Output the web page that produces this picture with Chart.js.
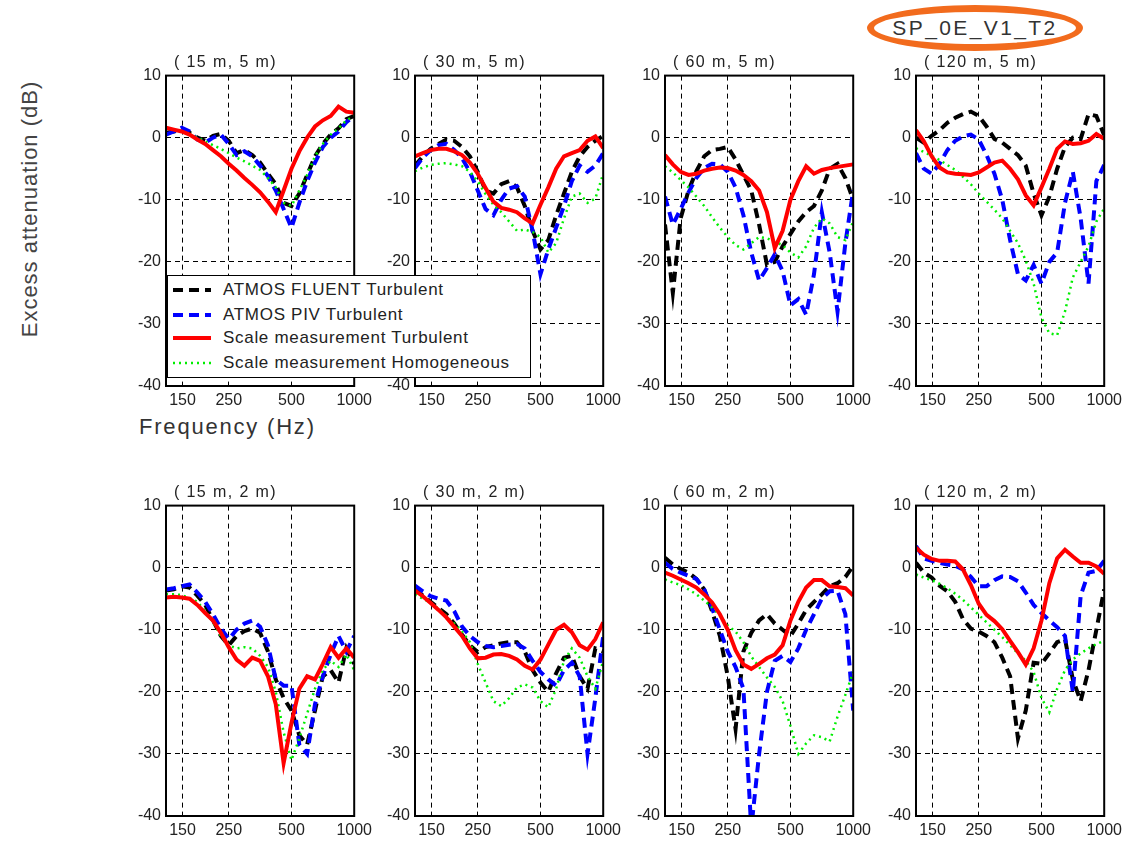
<!DOCTYPE html>
<html>
<head>
<meta charset="utf-8">
<script src="https://cdn.jsdelivr.net/npm/chart.js@4.4.0/dist/chart.umd.min.js"></script>
<style>
  body { margin: 0; background: #fff; width: 1128px; height: 845px; position: relative; overflow: hidden;
         font-family: "Liberation Sans", Arial, sans-serif; }
  canvas { position: absolute; }
  .ptitle { position: absolute; font-size: 16px; letter-spacing: 1.4px; color: #222; white-space: pre; line-height: 16px; }
  #ylabel { position: absolute; left: 30px; top: 209px; transform: translate(-50%, -50%) rotate(-90deg);
            font-size: 22px; letter-spacing: 1px; color: #444; white-space: nowrap; }
  #xlabel { position: absolute; left: 139px; top: 414px; font-size: 22px; letter-spacing: 1.8px; color: #333; white-space: nowrap; }
  #tag { position: absolute; left: 867px; top: 5px; width: 202px; height: 32px; border: 7px solid #f26b1d;
         border-radius: 50%; text-align: center; line-height: 32px; font-size: 21px; letter-spacing: 2.4px; color: #333; }
  #legend { position: absolute; left: 167px; top: 275px; width: 362px; height: 101px; background: #fff;
            border: 1.5px solid #000; }
  .lrow { position: absolute; left: 0; height: 20px; font-size: 17px; letter-spacing: 0.7px; color: #222; white-space: nowrap; }
  .lrow svg { position: absolute; left: 5px; top: 4px; }
  .lrow span { position: absolute; left: 55px; top: 0; line-height: 20px; }
</style>
</head>
<body>
<div id="ylabel">Excess attenuation (dB)</div>
<div id="xlabel">Frequency (Hz)</div>
<div id="tag">SP_0E_V1_T2</div>

<script>
// frequency axis (Hz), 1/8 octave steps read across each panel
const freqs = [125, 136.3, 148.6, 162.1, 176.8, 192.8, 210.2, 229.2, 250, 272.6, 297.3, 324.2, 353.6,
               385.6, 420.4, 458.5, 500, 545.3, 594.6, 648.4, 707.1, 771.1, 840.9, 917.0, 1000];
const xTicks = [150, 250, 500, 1000];
const yTicks = [-40, -30, -20, -10, 0, 10];

const seriesNames = ['ATMOS FLUENT Turbulent', 'ATMOS PIV Turbulent', 'Scale measurement Turbulent', 'Scale measurement Homogeneous'];
const panelTitles = ['( 15 m, 5 m)', '( 30 m, 5 m)', '( 60 m, 5 m)', '( 120 m, 5 m)',
                     '( 15 m, 2 m)', '( 30 m, 2 m)', '( 60 m, 2 m)', '( 120 m, 2 m)'];

// excess attenuation (dB) per panel and series
const fluent15x5 = [0.8, 1.0, 1.3, 0.8, 0.0, -0.5, 0.3, 0.6, -0.5, -2.5, -2.0, -2.8, -4.0, -5.8, -7.5, -10.5, -11.0, -9.0, -6.0, -3.0, -1.0, 0.5, 1.5, 3.0, 3.5];
const piv15x5    = [0.5, 1.0, 1.6, 1.0, -0.3, -0.8, 0.0, 0.5, -1.0, -2.8, -2.2, -3.0, -4.5, -6.2, -8.5, -11.5, -14.5, -10.5, -7.0, -4.0, -1.5, 0.0, 1.0, 2.5, 3.5];
const turb15x5   = [1.6, 1.3, 1.0, 0.5, -0.3, -1.0, -2.0, -3.0, -4.2, -5.3, -6.5, -7.6, -8.8, -10.3, -12.0, -8.5, -5.0, -2.2, 0.0, 1.8, 2.8, 3.5, 5.0, 4.2, 4.0];
const homog15x5  = [1.5, 1.3, 1.0, 0.6, 0.0, -0.6, -1.2, -1.8, -2.5, -3.2, -3.8, -4.5, -5.2, -6.5, -8.0, -10.5, -11.0, -8.5, -6.0, -3.0, -1.0, 0.5, 1.5, 2.8, 3.5];

const fluent30x5 = [-4.5, -3.0, -1.8, -1.0, -0.3, -0.5, -1.5, -3.0, -5.5, -8.5, -9.0, -7.5, -7.0, -8.0, -11.0, -15.0, -18.0, -16.5, -12.5, -9.0, -5.5, -3.0, -1.5, -0.5, 0.3];
const piv30x5    = [-4.9, -3.2, -2.0, -1.2, -1.0, -2.0, -3.3, -5.5, -8.5, -11.5, -12.5, -10.0, -8.2, -7.8, -9.5, -15.0, -22.0, -18.0, -14.5, -11.0, -7.0, -4.5, -5.5, -4.5, -2.5];
const turb30x5   = [-3.0, -2.5, -2.0, -1.8, -1.8, -2.2, -2.8, -4.0, -5.8, -8.1, -10.3, -11.3, -11.6, -12.0, -13.0, -13.8, -10.8, -8.0, -5.0, -3.0, -2.5, -2.0, -0.5, 0.2, -1.7];
const homog30x5  = [-5.4, -4.8, -4.4, -4.2, -4.1, -4.3, -4.6, -5.5, -7.0, -9.1, -10.8, -12.0, -13.5, -15.0, -14.8, -15.2, -16.0, -18.5, -17.0, -13.0, -9.5, -9.0, -10.5, -9.8, -5.8];

const fluent60x5 = [-14.0, -25.0, -13.0, -8.5, -5.4, -3.0, -2.0, -1.8, -1.5, -3.5, -6.0, -8.5, -14.0, -20.5, -20.0, -17.5, -15.5, -13.5, -12.0, -11.0, -8.5, -5.0, -4.2, -6.5, -10.0];
const piv60x5    = [-9.5, -14.0, -11.5, -8.8, -6.5, -4.9, -4.2, -4.3, -5.5, -8.0, -12.5, -18.5, -23.0, -21.0, -18.8, -21.5, -27.0, -26.0, -28.5, -22.0, -12.0, -18.5, -28.0, -17.0, -8.5];
const turb60x5   = [-2.8, -4.3, -5.5, -6.0, -5.8, -5.3, -5.0, -4.8, -4.9, -5.3, -6.0, -7.0, -8.5, -12.0, -17.8, -15.0, -10.0, -7.0, -4.6, -5.8, -5.2, -4.9, -4.7, -4.5, -4.3];
const homog60x5  = [-4.6, -5.6, -6.8, -8.0, -9.5, -11.0, -12.8, -14.5, -16.0, -17.3, -18.0, -17.0, -16.0, -16.2, -16.8, -17.3, -18.5, -19.3, -17.5, -14.5, -13.0, -13.8, -16.0, -16.5, -13.5];

const fluent120x5 = [0.0, -0.8, 0.3, 1.2, 2.4, 3.2, 3.8, 4.2, 3.5, 1.8, -0.2, -0.8, -1.8, -2.8, -4.5, -9.0, -12.5, -9.5, -5.0, -1.5, 0.0, -0.2, 3.8, 3.5, 0.4];
const piv120x5    = [-2.5, -5.0, -5.8, -4.2, -2.0, -0.5, 0.2, 0.5, -0.3, -2.8, -5.8, -10.0, -16.5, -22.0, -23.0, -20.5, -23.5, -20.0, -18.5, -10.5, -5.5, -13.0, -23.5, -7.0, -4.4];
const turb120x5   = [1.2, -0.6, -3.0, -4.8, -5.6, -5.8, -5.9, -6.0, -5.6, -4.8, -4.0, -3.7, -5.0, -6.7, -9.3, -10.9, -8.0, -5.0, -1.8, -0.6, -1.0, -0.9, -0.5, 0.6, -0.2];
const homog120x5  = [-1.7, -2.3, -2.9, -3.6, -4.4, -5.2, -6.3, -7.5, -9.0, -10.3, -11.6, -13.0, -15.0, -17.0, -19.8, -23.5, -29.0, -31.5, -31.8, -28.0, -22.5, -20.0, -17.5, -13.5, -11.4];

const fluent15x2 = [-3.7, -3.5, -3.0, -3.2, -4.5, -6.0, -8.5, -11.0, -12.5, -11.0, -10.2, -9.8, -10.5, -13.5, -18.0, -21.0, -23.0, -27.0, -28.5, -23.0, -17.5, -16.5, -18.5, -13.0, -15.5];
const piv15x2    = [-3.5, -3.3, -3.0, -2.7, -4.0, -5.5, -7.5, -9.8, -11.5, -10.0, -9.0, -8.5, -9.5, -12.5, -18.0, -19.0, -19.0, -28.5, -30.0, -22.0, -17.5, -14.0, -11.0, -13.5, -11.0];
const turb15x2   = [-4.8, -4.7, -4.8, -5.0, -6.0, -7.3, -8.5, -10.5, -12.8, -14.8, -15.8, -14.5, -15.0, -17.5, -22.0, -31.5, -25.0, -19.5, -17.5, -18.0, -15.5, -12.8, -14.5, -13.0, -14.5];
const homog15x2  = [-4.3, -4.3, -4.4, -4.9, -5.5, -7.0, -8.8, -11.0, -12.5, -13.0, -12.8, -13.0, -14.2, -16.0, -20.0, -26.5, -31.0, -27.5, -23.5, -19.5, -16.5, -15.0, -16.0, -14.0, -16.5];

const fluent30x2 = [-3.5, -4.5, -5.5, -6.5, -7.5, -9.0, -10.8, -12.5, -13.6, -12.8, -12.5, -12.2, -12.0, -12.0, -13.5, -16.5, -18.5, -20.0, -17.0, -14.5, -14.2, -17.5, -19.5, -13.0, -13.5];
const piv30x2    = [-2.9, -3.8, -4.6, -5.0, -5.3, -7.0, -9.5, -11.0, -12.0, -12.6, -12.8, -12.6, -12.4, -12.3, -13.0, -15.0, -16.8, -18.0, -19.0, -16.5, -15.3, -17.5, -30.0, -21.0, -11.0];
const turb30x2   = [-3.7, -4.6, -5.7, -6.8, -8.0, -9.5, -11.0, -13.0, -14.6, -14.5, -14.0, -13.9, -14.2, -14.8, -15.8, -16.4, -14.8, -12.4, -10.0, -9.2, -10.4, -12.5, -13.2, -11.5, -8.8];
const homog30x2  = [-4.3, -5.0, -5.6, -6.6, -7.8, -9.0, -10.3, -12.0, -15.5, -18.5, -21.5, -22.3, -21.0, -19.3, -18.8, -19.3, -21.5, -22.5, -19.5, -15.0, -13.0, -14.5, -17.5, -19.5, -15.0];

const fluent60x2 = [1.6, 0.5, -0.2, -0.8, -1.8, -3.5, -7.0, -11.0, -17.5, -26.0, -13.5, -10.5, -8.5, -7.5, -9.0, -10.0, -11.0, -9.0, -6.8, -5.5, -4.3, -3.0, -2.5, -1.5, 0.3];
const piv60x2    = [0.8, -0.2, -0.8, -1.3, -1.8, -3.5, -6.5, -10.0, -13.5, -16.0, -19.5, -42.0, -30.0, -20.0, -15.0, -14.2, -15.2, -13.0, -10.0, -7.5, -5.0, -3.8, -3.7, -7.5, -23.0];
const turb60x2   = [-0.8, -1.3, -1.9, -2.5, -3.2, -4.3, -5.6, -7.5, -10.0, -13.3, -15.6, -16.3, -15.5, -14.6, -14.0, -12.5, -8.5, -5.5, -3.2, -2.0, -2.0, -3.0, -3.1, -3.3, -4.5];
const homog60x2  = [-1.9, -2.4, -2.8, -3.5, -4.3, -5.3, -6.4, -7.7, -9.3, -10.3, -12.0, -14.3, -16.0, -17.7, -19.2, -21.5, -25.5, -30.0, -28.3, -27.0, -27.3, -28.0, -24.0, -20.5, -16.8];

const fluent120x2 = [0.8, -0.8, -1.6, -2.9, -3.8, -5.5, -8.3, -9.8, -10.3, -11.0, -12.0, -14.5, -17.5, -27.5, -23.0, -15.3, -15.5, -13.8, -12.0, -11.5, -18.0, -21.5, -16.5, -10.0, -3.5];
const piv120x2    = [3.5, 1.5, 1.1, 0.8, 0.5, 0.3, -0.3, -1.5, -3.0, -3.0, -2.0, -1.4, -1.5, -2.2, -4.0, -6.0, -7.3, -8.5, -9.6, -11.0, -20.0, -4.5, -0.8, -0.5, 1.1];
const turb120x2   = [3.2, 2.1, 1.4, 1.1, 1.1, 1.0, -0.3, -2.8, -5.8, -7.6, -8.6, -9.9, -11.8, -13.6, -15.6, -13.0, -8.5, -2.5, 1.5, 2.9, 1.8, 0.8, 0.8, 0.2, -1.0];
const homog120x2  = [-1.1, -1.6, -2.0, -2.6, -3.3, -4.2, -5.2, -6.4, -7.6, -8.8, -10.0, -11.2, -12.5, -13.8, -15.0, -16.8, -21.0, -23.3, -19.5, -16.5, -14.8, -13.8, -13.0, -12.3, -11.8];

const panelSeries = [
  [fluent15x5, piv15x5, turb15x5, homog15x5],
  [fluent30x5, piv30x5, turb30x5, homog30x5],
  [fluent60x5, piv60x5, turb60x5, homog60x5],
  [fluent120x5, piv120x5, turb120x5, homog120x5],
  [fluent15x2, piv15x2, turb15x2, homog15x2],
  [fluent30x2, piv30x2, turb30x2, homog30x2],
  [fluent60x2, piv60x2, turb60x2, homog60x2],
  [fluent120x2, piv120x2, turb120x2, homog120x2]
];

// layout
const colLeft = [166, 415, 665, 916];
const rowTop = [73, 503];
const PLOT_W = 191, PLOT_H = 313;
const PAD_L = 40, PAD_T = 12, PAD_R = 20, PAD_B = 28;
const FONT = '"Liberation Sans", Arial, sans-serif';

const lineStyles = [
  { borderColor: '#000000', borderWidth: 4, borderDash: [10, 6], order: 3 },
  { borderColor: '#0000ff', borderWidth: 4, borderDash: [10, 6], order: 2 },
  { borderColor: '#ff0000', borderWidth: 4, borderDash: [], order: 0 },
  { borderColor: '#00ee00', borderWidth: 2.5, borderDash: [2, 4], order: 1 }
];

const framePlugin = {
  id: 'frame',
  afterDatasetsDraw(chart) {
    const { ctx, chartArea: a } = chart;
    ctx.save();
    ctx.setLineDash([]);
    ctx.strokeStyle = '#000';
    ctx.lineWidth = 2;
    ctx.strokeRect(a.left, a.top, a.right - a.left, a.bottom - a.top);
    ctx.restore();
  }
};

function makePanel(i) {
  const L = colLeft[i % 4], T = rowTop[Math.floor(i / 4)];

  const canvas = document.createElement('canvas');
  canvas.width = PAD_L + PLOT_W + PAD_R;
  canvas.height = PAD_T + PLOT_H + PAD_B;
  canvas.style.left = (L - PAD_L) + 'px';
  canvas.style.top = (T - PAD_T) + 'px';
  document.body.appendChild(canvas);

  const title = document.createElement('div');
  title.className = 'ptitle';
  title.textContent = panelTitles[i];
  title.style.left = (L + 8) + 'px';
  title.style.top = (T - 19) + 'px';
  document.body.appendChild(title);

  const datasets = panelSeries[i].map((vals, s) => Object.assign({
    label: seriesNames[s],
    data: freqs.map((f, k) => ({ x: f, y: vals[k] })),
    pointRadius: 0,
    tension: 0,
    fill: false,
    clip: 0
  }, lineStyles[s]));

  new Chart(canvas, {
    type: 'line',
    data: { datasets },
    options: {
      responsive: false,
      animation: false,
      events: [],
      layout: { padding: { left: 0, top: PAD_T, right: PAD_R, bottom: 0 } },
      plugins: { legend: { display: false }, tooltip: { enabled: false } },
      scales: {
        x: {
          type: 'logarithmic',
          min: 125,
          max: 1000,
          afterBuildTicks(scale) { scale.ticks = xTicks.map(v => ({ value: v })); },
          afterFit(scale) { scale.height = PAD_B; },
          ticks: { autoSkip: false, maxRotation: 0, padding: 5, color: '#222',
                   font: { size: 16, family: FONT }, callback: v => String(v) },
          grid: { color: '#000', lineWidth: 1, drawTicks: false },
          border: { display: false, dash: [5, 4] }
        },
        y: {
          min: -40,
          max: 10,
          afterBuildTicks(scale) { scale.ticks = yTicks.map(v => ({ value: v })); },
          afterFit(scale) { scale.width = PAD_L; },
          ticks: { padding: 5, color: '#222', font: { size: 16, family: FONT } },
          grid: { color: '#000', lineWidth: 1, drawTicks: false },
          border: { display: false, dash: [5, 4] }
        }
      }
    },
    plugins: [framePlugin]
  });
}

for (let i = 0; i < 8; i++) makePanel(i);

// legend box spanning the first two top panels
const legend = document.createElement('div');
legend.id = 'legend';
const rowY = [4, 29, 52, 77];
seriesNames.forEach((name, s) => {
  const st = lineStyles[s];
  const row = document.createElement('div');
  row.className = 'lrow';
  row.style.top = rowY[s] + 'px';
  const dash = st.borderDash.length ? `stroke-dasharray="${st.borderDash.join(' ')}"` : '';
  row.innerHTML = `<svg width="40" height="12"><line x1="0" y1="6" x2="38" y2="6" stroke="${st.borderColor}"
      stroke-width="${st.borderWidth}" ${dash}/></svg><span>${name}</span>`;
  legend.appendChild(row);
});
document.body.appendChild(legend);
</script>
</body>
</html>
